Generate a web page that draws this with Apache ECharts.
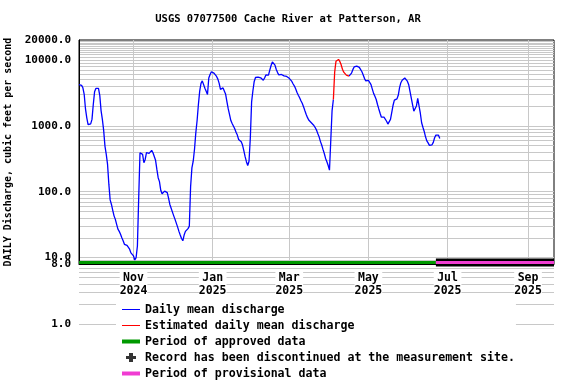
<!DOCTYPE html>
<html>
<head>
<meta charset="utf-8">
<script src="https://cdn.jsdelivr.net/npm/echarts@6/dist/echarts.min.js"></script>
<style>
  html, body { margin: 0; padding: 0; background: #fff; }
  #chart { width: 576px; height: 384px; }
</style>
</head>
<body>
<div id="chart"></div>
<script>
// ---- Data ----
const firstDay = '2024-09-20';           // date of flowCfs[0]
const xRange = ['2024-09-20', '2025-09-21'];
// Daily mean discharge, cubic feet per second (one value per day from firstDay)
const flowCfs = [
  4200, 4200, 4100, 3770, 3000, 1800, 1320, 1040, 990, 1070,
  1250, 2100, 3270, 3680, 3860, 3680, 2900, 1700, 1250, 850,
  492, 368, 259, 130, 75, 64, 52, 43, 38, 32,
  27, 25, 22.6, 20, 18, 15.9, 15.6, 15.3, 15, 13.4,
  11.8, 11.5, 10.6, 9.2, 10, 15, 81, 390, 413, 368,
  275, 309, 390, 395, 381, 395, 423, 390, 377, 299,
  218, 163, 142, 105, 93, 93, 102, 105, 97, 80,
  64, 56, 49, 43, 38, 36, 29, 25, 22, 19.5,
  18, 22, 25, 26.5, 27.5, 30, 120, 230, 290, 440,
  780, 1200, 2100, 3350, 4400, 4800, 4500, 3700, 3350, 2985,
  5300, 6000, 6580, 6650, 6300, 6000, 5600, 5100, 4400, 3560,
  3600, 3750, 3510, 3000, 2300, 1800, 1480, 1200, 1080, 1023,
  900, 800, 722, 620, 590, 573, 510, 420, 340, 285,
  250, 290, 650, 2300, 3400, 4700, 5400, 5520, 5470, 5400,
  5330, 5200, 4920, 5300, 5900, 6140, 5860, 7000, 8200, 9300,
  9300, 8300, 7140, 6400, 5900, 5900, 6000, 5800, 5700, 5660,
  5600, 5470, 5250, 5000, 4700, 4300, 4000, 3600, 3200, 2900,
  2655, 2400, 2200, 1950, 1700, 1500, 1340, 1220, 1150, 1110,
  1060, 1010, 940, 860, 760, 680, 580, 510, 438, 380,
  320, 285, 250, 212, 600, 1700, 2500, 6500, 9500, 10100,
  10150, 9400, 8400, 7200, 6500, 6150, 5860, 5700, 5660, 5660,
  6300, 7100, 7800, 8020, 8020, 8000, 7700, 7200, 6600, 5900,
  5200, 4800, 4850, 4900, 4700, 4200, 3600, 3100, 2800, 2500,
  2100, 1800, 1550, 1350, 1290, 1350, 1270, 1170, 1060, 1070,
  1250, 1600, 2050, 2450, 2530, 2560, 2900, 3800, 4500, 4900,
  5250, 5300, 5000, 4750, 4230, 3350, 2655, 2100, 1667, 1600,
  2000, 2600, 2000, 1550, 1110, 950, 820, 680, 590, 550,
  505, 492, 515, 560, 658, 722, 740, 720, 643
];
const estimatedPeriod = ['2025-04-04', '2025-04-16'];
const approvedPeriod = ['2024-09-20', '2025-06-22'];
const provisionalPeriod = ['2025-06-22', '2025-09-21'];
const statusBarLevel = 8.45;
const monthTicks = ['2024-11-01', '2025-01-01', '2025-03-01', '2025-05-01', '2025-07-01', '2025-09-01'];
const monthNames = ['Jan','Feb','Mar','Apr','May','Jun','Jul','Aug','Sep','Oct','Nov','Dec'];
const gridMultipliers = [1, 2, 3, 4, 5, 6, 7, 8, 9];
const gridDecades = [10, 100, 1000];
const topDecadeLines = [10000, 11000, 12000, 13000, 14000, 15000, 16000, 17000, 18000, 19000];
const lowerGridLines = [1, 2, 3, 4, 5, 6, 7];
const yName = 'DAILY Discharge, cubic feet per second';
const titleText = 'USGS 07077500 Cache River at Patterson, AR';

// ---- helpers ----
const DAY = 86400000;
const ts = s => { const p = s.split('-').map(Number); return Date.UTC(p[0], p[1] - 1, p[2]); };
const t0 = ts(firstDay);
const estStart = Math.round((ts(estimatedPeriod[0]) - t0) / DAY);
const estEnd = Math.round((ts(estimatedPeriod[1]) - t0) / DAY);
const dailyData = flowCfs.map((v, i) => [t0 + i * DAY, (i > estStart && i < estEnd) ? null : v]);
const estData = flowCfs.map((v, i) => [t0 + i * DAY, v]).slice(estStart, estEnd + 1);
const yGridValues = [9];
gridDecades.forEach(d => gridMultipliers.forEach(m => yGridValues.push(d * m)));
topDecadeLines.forEach(v => yGridValues.push(v));

const FONT = '"DejaVu Sans Mono", "Liberation Mono", monospace';
const GRAY = '#c8c8c8';
const textBase = { fontFamily: FONT, fontWeight: 'bold', color: '#000' };

const chart = echarts.init(document.getElementById('chart'), null, { renderer: 'canvas' });
const option = {
  animation: false,
  backgroundColor: '#fff',
  title: {
    text: titleText, left: 'center', top: 14, padding: 0,
    textStyle: Object.assign({ fontSize: 10.5 }, textBase)
  },
  grid: [
    { left: 79, right: 22, top: 40, height: 224, show: true, borderColor: '#000', borderWidth: 1,
      backgroundColor: 'transparent', outerBoundsMode: 'none', containLabel: false },
    { left: 79, right: 22, top: 264, height: 60, show: false, outerBoundsMode: 'none', containLabel: false }
  ],
  xAxis: [
    {
      type: 'value', gridIndex: 0, min: ts(xRange[0]), max: ts(xRange[1]), z: 10,
      axisLine: { show: true, lineStyle: { color: '#000', width: 1 } },
      axisTick: { show: false },
      splitLine: { show: false },
      axisLabel: Object.assign({
        customValues: monthTicks.map(ts),
        formatter: v => { const d = new Date(v); return monthNames[d.getUTCMonth()] + '\n' + d.getUTCFullYear(); },
        fontSize: 11.5, lineHeight: 13.5, margin: 7, backgroundColor: '#fff', hideOverlap: false
      }, textBase)
    },
    { type: 'value', gridIndex: 1, min: ts(xRange[0]), max: ts(xRange[1]), show: false }
  ],
  yAxis: [
    {
      type: 'log', logBase: 10, gridIndex: 0, min: 8, max: 20000,
      axisLine: { show: true, lineStyle: { color: '#000' } },
      axisTick: { show: false },
      splitLine: { show: false },
      axisLabel: Object.assign({ formatter: v => Number(v).toFixed(1), fontSize: 11, margin: 8,
        showMinLabel: false, showMaxLabel: true, hideOverlap: false }, textBase),
      name: yName, nameLocation: 'middle', nameRotate: 90, nameGap: 61,
      nameTextStyle: Object.assign({ fontSize: 10 }, textBase)
    },
    {
      type: 'log', logBase: 10, gridIndex: 1, min: 1, max: 8,
      axisLine: { show: false }, axisTick: { show: false }, splitLine: { show: false },
      axisLabel: Object.assign({ formatter: v => Number(v).toFixed(1), fontSize: 11, margin: 8,
        showMinLabel: true, showMaxLabel: true, hideOverlap: false }, textBase)
    }
  ],
  legend: {
    orient: 'vertical', left: 116, top: 296.5, height: 100, padding: [5, 1, 4, 6], z: 20,
    backgroundColor: '#fff', itemWidth: 18, itemHeight: 9, itemGap: 0,
    selectedMode: false, symbolKeepAspect: true,
    textStyle: Object.assign({ fontSize: 11.6, lineHeight: 16 }, textBase),
    data: [
      { name: 'Daily mean discharge', icon: 'path://M0,0H18V1H0Z', itemStyle: { borderWidth: 0 } },
      { name: 'Estimated daily mean discharge', icon: 'path://M0,0H18V1H0Z', itemStyle: { borderWidth: 0 } },
      { name: 'Period of approved data', icon: 'path://M0,0H18V4H0Z', itemStyle: { borderWidth: 0 } },
      { name: 'Record has been discontinued at the measurement site.', icon: 'path://M3,0H7V3H10V6H7V9H3V6H0V3H3Z', itemStyle: { borderWidth: 0 } },
      { name: 'Period of provisional data', icon: 'path://M0,0H18V4H0Z', itemStyle: { borderWidth: 0 } }
    ]
  },
  series: [
    {
      name: 'gridlines', type: 'line', xAxisIndex: 0, yAxisIndex: 0, data: [], z: 0, silent: true,
      markLine: {
        silent: true, symbol: 'none', label: { show: false }, animation: false, z: 0,
        lineStyle: { color: GRAY, type: 'solid', width: 1 },
        data: yGridValues.map(v => ({ yAxis: v })).concat(monthTicks.map(m => ({ xAxis: ts(m) })))
      }
    },
    {
      name: 'lowergrid', type: 'line', xAxisIndex: 1, yAxisIndex: 1, data: [], z: 0, silent: true,
      markLine: {
        silent: true, symbol: 'none', label: { show: false }, animation: false, z: 0,
        lineStyle: { color: GRAY, type: 'solid', width: 1 },
        data: lowerGridLines.map(v => ({ yAxis: v }))
      }
    },
    {
      name: 'Daily mean discharge', type: 'line', color: '#0000ff', data: dailyData, z: 4,
      symbol: 'none', showSymbol: false, connectNulls: false,
      lineStyle: { color: '#0000ff', width: 1.3 }
    },
    {
      name: 'Estimated daily mean discharge', type: 'line', color: '#ff0000', data: estData, z: 4,
      symbol: 'none', showSymbol: false,
      lineStyle: { color: '#ff0000', width: 1.3 }
    },
    {
      name: 'Period of approved data', type: 'line', color: '#009900', z: 5, clip: false,
      symbol: 'none', lineStyle: { color: '#009900', width: 3 },
      data: approvedPeriod.map(d => [ts(d), statusBarLevel])
    },
    {
      name: 'Record has been discontinued at the measurement site.', type: 'scatter', color: '#000', data: []
    },
    {
      name: 'provisionalOutline', type: 'line', color: '#000', z: 5, clip: false,
      symbol: 'none', lineStyle: { color: '#000', width: 8, cap: 'butt' },
      data: provisionalPeriod.map(d => [ts(d), statusBarLevel])
    },
    {
      name: 'Period of provisional data', type: 'line', color: '#f03cd2', z: 6, clip: false,
      symbol: 'none', lineStyle: { color: '#f03cd2', width: 3 },
      data: provisionalPeriod.map(d => [ts(d), statusBarLevel])
    }
  ]
};
chart.setOption(option);
</script>
</body>
</html>
